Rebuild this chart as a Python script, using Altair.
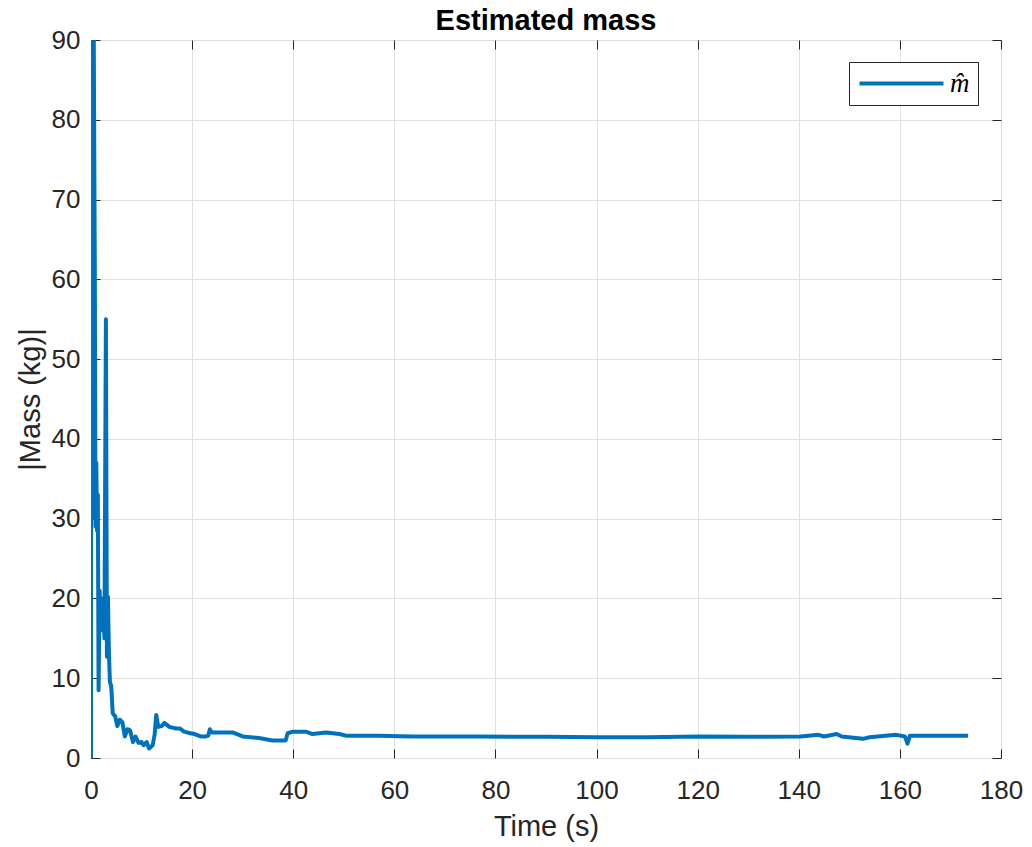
import altair as alt
import pandas as pd

# ---- data ----
times = [0, 0.03, 0.1, 0.25, 0.4, 0.55, 0.75, 0.9, 1.05, 1.2, 1.35, 1.5, 1.7, 1.9, 2.1,
         2.3, 2.5, 2.65, 2.95, 3.15, 3.35, 3.55, 3.75, 4.0, 4.3, 4.8, 5.2, 5.7, 6.2, 6.7,
         7.2, 7.7, 8.3, 8.8, 9.4, 10.0, 10.4, 11.0, 11.5, 12.2, 12.6, 12.9, 13.3, 14.0,
         14.5, 15.5, 16.8, 17.6, 18.4, 19.7, 20.5, 21.7, 22.7, 23.2, 23.5, 23.9, 25.1,
         28, 30, 33.2, 35.9, 38.5, 38.9, 39.9, 42.5, 43.8, 46.5, 49.1, 50.4, 57, 63.5,
         76.7, 90, 100, 110, 120.5, 130, 140.3, 143.9, 145, 147.5, 148.5, 152.7, 154,
         159.3, 161, 161.5, 162, 173.5]
mass = [0, 48, 30, 90, 69, 90, 62, 29, 37, 28.5, 33, 8.5, 21, 18, 20,
        16, 19.5, 15, 55, 12.7, 20.2, 13, 9.5, 9.0, 5.6, 5.2, 4.0, 4.8, 4.5, 2.7,
        3.6, 3.5, 2.0, 2.7, 1.9, 2.0, 1.6, 2.0, 1.2, 1.6, 3.0, 5.4, 3.9, 4.0,
        4.4, 3.9, 3.7, 3.7, 3.3, 3.1, 3.0, 2.7, 2.7, 2.8, 3.6, 3.2, 3.2,
        3.2, 2.7, 2.5, 2.2, 2.2, 3.1, 3.3, 3.3, 3.0, 3.2, 3.0, 2.8, 2.8, 2.7,
        2.7, 2.65, 2.6, 2.6, 2.7, 2.65, 2.7, 2.9, 2.7, 3.0, 2.7, 2.4, 2.6,
        2.9, 2.7, 1.8, 2.8, 2.8]
series_name = "m\u0302"

x_ticks = list(range(0, 181, 20))
y_ticks = list(range(0, 91, 10))
x_grid = x_ticks[1:-1]
y_grid = y_ticks[1:-1]

df = pd.DataFrame({"t": times, "m": mass, "series": series_name})

FONT = "Liberation Sans"
DARK = "#262626"
BLUE = "#0072BD"

xs = alt.Scale(domain=[0, 180], nice=False, zero=False)
ys = alt.Scale(domain=[0, 90], nice=False)

# grid-only layer (interior grid lines)
grid_layer = alt.Chart(df).mark_line(clip=True, strokeOpacity=0, strokeJoin="round").encode(
    x=alt.X("t:Q", scale=xs, axis=alt.Axis(orient="bottom", values=x_grid, grid=True,
                                             gridColor="#dfdfdf", gridWidth=1, ticks=False,
                                             labels=False, domain=False, title=None)),
    y=alt.Y("m:Q", scale=ys, axis=alt.Axis(orient="left", values=y_grid, grid=True,
                                             gridColor="#dfdfdf", gridWidth=1, ticks=False,
                                             labels=False, domain=False, title=None)),
)

# main line with inward ticks, labels, titles
main = alt.Chart(df).mark_line(clip=True, strokeWidth=4, strokeJoin="round").encode(
    x=alt.X("t:Q", scale=xs, axis=alt.Axis(
        orient="bottom", values=x_ticks, offset=-9, grid=False, domain=False,
        ticks=True, tickSize=9, tickColor=DARK, tickWidth=1,
        labelFont=FONT, labelFontSize=26, labelColor=DARK, labelPadding=19,
        labelFlush=False, labelOverlap=False,
        title="Time (s)", titleFont=FONT, titleFontSize=29, titleFontWeight="normal",
        titleColor=DARK, titlePadding=9)),
    y=alt.Y("m:Q", scale=ys, axis=alt.Axis(
        orient="left", values=y_ticks, offset=-9, grid=False, domain=False,
        ticks=True, tickSize=9, tickColor=DARK, tickWidth=1,
        labelFont=FONT, labelFontSize=26, labelColor=DARK, labelPadding=11,
        labelFlush=False, labelOverlap=False,
        title="|Mass (kg)|", titleFont=FONT, titleFontSize=29, titleFontWeight="normal",
        titleColor=DARK, titlePadding=6)),
    color=alt.Color("series:N", scale=alt.Scale(range=[BLUE]), legend=alt.Legend(
        title=None, orient="none", legendX=758, legendY=22,
        padding=8, strokeColor=DARK, fillColor="white",
        symbolType="M-1,0H6.636", symbolSize=484, symbolStrokeWidth=4,
        labelOffset=66, labelFont="Liberation Serif", labelFontStyle="italic",
        labelFontSize=27, labelColor="black", labelLimit=0)),
)

# top/right inward ticks
top_layer = alt.Chart(df).mark_line(clip=True, strokeOpacity=0, strokeJoin="round").encode(
    x=alt.X("t:Q", scale=xs, axis=alt.Axis(
        orient="top", values=x_ticks, offset=-9, grid=False, domain=False,
        ticks=True, tickSize=9, tickColor=DARK, tickWidth=1, labels=False, title=None)),
    y=alt.Y("m:Q", scale=ys, axis=alt.Axis(
        orient="right", values=y_ticks, offset=-9, grid=False, domain=False,
        ticks=True, tickSize=9, tickColor=DARK, tickWidth=1, labels=False, title=None)),
)

chart = alt.layer(grid_layer, main, top_layer).resolve_axis(
    x="independent", y="independent"
).properties(
    width=910, height=718,
    padding={"left": 91, "top": 40, "right": 31, "bottom": 89},
    autosize=alt.AutoSizeParams(type="none"),
    title=alt.TitleParams(text="Estimated mass", font=FONT, fontSize=29,
                          fontWeight="bold", color="black", offset=0, dy=32,
                          baseline="alphabetic", anchor="middle", frame="group"),
).configure_view(stroke=DARK, strokeWidth=1).configure(background="white")

chart.save("out.html", embed_options={"renderer": "svg", "actions": False})
